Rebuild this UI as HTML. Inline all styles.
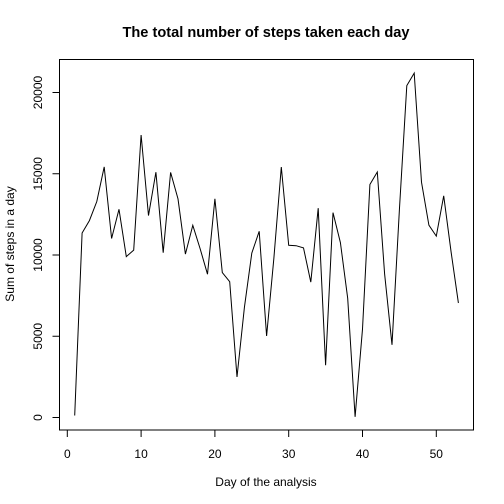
<!DOCTYPE html>
<html><head><meta charset="utf-8"><style>body{margin:0;background:#fff}svg{display:block;font-family:"Liberation Sans",Arial,sans-serif}</style></head>
<body>
<svg id="chart" width="504" height="504">
<text x="266" y="37" text-anchor="middle" font-weight="bold" font-size="14.6">The total number of steps taken each day</text>
<text x="266" y="486" text-anchor="middle" font-size="12">Day of the analysis</text>
<text transform="translate(14,244) rotate(-90)" text-anchor="middle" font-size="12">Sum of steps in a day</text>
<rect x="59.5" y="59.5" width="414" height="370.5" fill="none" stroke="#000"/>
<g id="axes"></g>
<path id="line" fill="none" stroke="#000" stroke-width="1"/>
</svg>
<script>
const steps=[126,11352,12116,13294,15420,11015,12811,9900,10304,17382,12426,15098,10139,15084,13452,10056,11829,10395,8821,13460,8918,8355,2492,6778,10119,11458,5018,9819,15414,10600,10571,10439,8334,12883,3219,12608,10765,7336,41,5441,14339,15110,8841,4472,12787,20427,21194,14478,11834,11162,13646,10183,7047];
const xTicks=[0,10,20,30,40,50];
const yTicks=[0,5000,10000,15000,20000];
const X=v=>67.3+7.38*v;
const Y=v=>417.5-0.01625*v;
const ns="http://www.w3.org/2000/svg";
const g=document.getElementById('axes');
function mk(t,a){const e=document.createElementNS(ns,t);for(const k in a)e.setAttribute(k,a[k]);g.appendChild(e);return e;}
let l=mk('line',{x1:X(0),x2:X(50),y1:430,y2:430,stroke:'#000'});


xTicks.forEach(v=>{const t=mk('line',{x1:X(v),x2:X(v),y1:430,y2:437,stroke:'#000'});


const s=mk('text',{x:X(v),y:458,'text-anchor':'middle','font-size':12});s.textContent=v;

});
l=mk('line',{x1:59.5,x2:59.5,y1:Y(0),y2:Y(20000),stroke:'#000'});


yTicks.forEach(v=>{const t=mk('line',{x1:52.5,x2:59.5,y1:Y(v),y2:Y(v),stroke:'#000'});


const s=mk('text',{transform:`translate(42,${Y(v)}) rotate(-90)`,'text-anchor':'middle','font-size':12});s.textContent=v;

});
document.getElementById('line').setAttribute('d',steps.map((v,i)=>(i?'L':'M')+X(i+1).toFixed(1)+','+Y(v).toFixed(1)).join(''));
</script>
</body></html>
